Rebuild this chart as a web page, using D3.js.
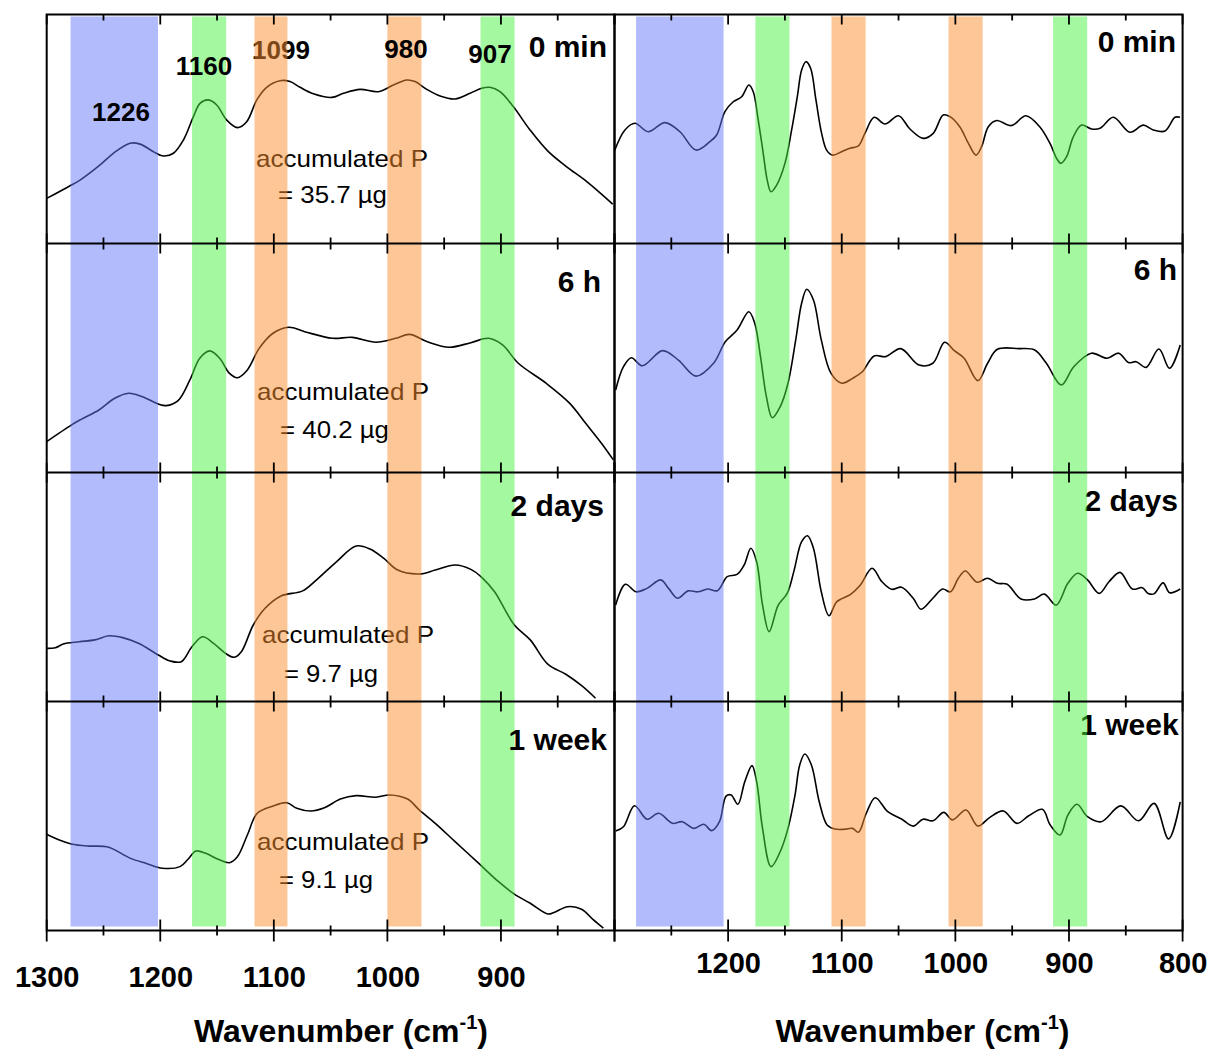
<!DOCTYPE html>
<html><head><meta charset="utf-8">
<script src="https://cdn.jsdelivr.net/npm/d3@7"></script>
<style>body{margin:0;background:#fff}svg{display:block}</style>
</head><body>
<svg id="chart" width="1213" height="1053"></svg>
<script>
// ---------------- DATA ----------------
const timeLabels = ["0 min", "6 h", "2 days", "1 week"];
const accumulatedP = ["35.7", "40.2", "9.7", "9.1"]; // µg
const peakLabels = [1226, 1160, 1099, 980, 907];
const majorTicks = [1300, 1200, 1100, 1000, 900, 800];
const minorTicks = [1250, 1150, 1050, 950, 850];
const leftTickLabels = [1300, 1200, 1100, 1000, 900];
const rightTickLabels = [1200, 1100, 1000, 900, 800];

// highlighted bands [from, to, kind]
const bandsLeft = [[1279, 1202, "blue"], [1172, 1142, "green"], [1117, 1088, "orange"], [1000, 970, "orange"], [918, 888, "green"]];
const bandsRight = [[1281, 1204, "blue"], [1176, 1146, "green"], [1109, 1079, "orange"], [1006, 976, "orange"], [914, 884, "green"]];

// absorbance spectra (a.u.) [wavenumber, value]
const absorbance0min = [[1300,0.197],[1280.9,0.248],[1270.6,0.277],[1253,0.343],[1241.3,0.394],[1226.6,0.438],[1217.8,0.434],[1206,0.401],[1197.3,0.382],[1188.4,0.394],[1179.6,0.452],[1170.8,0.554],[1165,0.612],[1157.6,0.627],[1150.3,0.605],[1141.5,0.539],[1132.1,0.506],[1123.9,0.532],[1115,0.627],[1106.3,0.682],[1094.5,0.711],[1085.7,0.707],[1076.9,0.682],[1065.2,0.654],[1049,0.638],[1038.7,0.656],[1024,0.673],[1007.9,0.663],[994.7,0.692],[983,0.714],[975.6,0.707],[965.3,0.673],[953.6,0.644],[940.4,0.631],[927.2,0.656],[916.9,0.678],[909.6,0.682],[900.8,0.663],[889,0.597],[874.4,0.496],[858.2,0.401],[842.1,0.335],[824.4,0.270],[801.6,0.172]];
const absorbance6h = [[1300,0.135],[1278.4,0.207],[1269.7,0.232],[1254,0.273],[1240.1,0.324],[1227.9,0.346],[1215.7,0.331],[1201.7,0.299],[1194.8,0.292],[1184.3,0.314],[1173.9,0.404],[1165.2,0.499],[1156.4,0.531],[1147.7,0.499],[1139,0.433],[1132.1,0.414],[1123.3,0.448],[1112.9,0.542],[1100.7,0.608],[1086.8,0.634],[1072.8,0.615],[1048.4,0.586],[1031,0.590],[1010.1,0.569],[992.7,0.586],[980.5,0.603],[964.8,0.571],[945.6,0.547],[926.5,0.567],[910.8,0.586],[898.6,0.557],[884.7,0.477],[860.3,0.390],[839.4,0.302],[825.4,0.215],[811.5,0.128],[801,0.055]];
const absorbance2d = [[1300,0.232],[1292.3,0.235],[1285.4,0.251],[1271.4,0.261],[1257.5,0.269],[1245.3,0.287],[1233.1,0.279],[1219.2,0.254],[1201.7,0.203],[1191.3,0.177],[1181.5,0.174],[1172.1,0.239],[1162.7,0.283],[1153,0.254],[1142.5,0.210],[1134.8,0.193],[1128.6,0.217],[1118.1,0.334],[1107.7,0.407],[1093.7,0.461],[1074.6,0.483],[1062.4,0.531],[1044.9,0.610],[1027.5,0.679],[1015.3,0.666],[1003.1,0.625],[990.9,0.574],[971.8,0.557],[957.8,0.574],[940.4,0.596],[926.5,0.577],[916,0.538],[905.6,0.479],[888.2,0.334],[874.2,0.269],[858.5,0.162],[842.9,0.119],[828.9,0.069],[816.7,0.014]];
const absorbance1w = [[1300,0.420],[1288.9,0.395],[1278.4,0.378],[1264.5,0.369],[1247,0.366],[1240.1,0.352],[1226.1,0.315],[1212.2,0.293],[1198.3,0.272],[1182.6,0.279],[1175.6,0.311],[1168.6,0.347],[1160,0.337],[1149.5,0.312],[1139,0.296],[1132.1,0.322],[1123.3,0.417],[1114.6,0.512],[1100.7,0.544],[1088.5,0.558],[1079.8,0.534],[1067.6,0.522],[1055.4,0.536],[1041.4,0.574],[1027.5,0.589],[1010.1,0.582],[998.1,0.592],[982.2,0.574],[971.8,0.526],[957.8,0.468],[940.4,0.388],[919.5,0.293],[902.1,0.213],[888.2,0.159],[874.2,0.119],[858.5,0.072],[853.3,0.079],[841.1,0.104],[829,0.093],[818.5,0.046],[809.8,0.010]];

// second-derivative spectra (a.u.) [wavenumber, value]
const derivative0min = [[1300,0.405],[1290.8,0.496],[1282,0.525],[1270.3,0.488],[1255.6,0.528],[1242.4,0.488],[1228.3,0.408],[1216,0.445],[1210.1,0.474],[1202.8,0.576],[1195.5,0.619],[1188.1,0.641],[1181.7,0.692],[1177.9,0.663],[1173.5,0.539],[1169.1,0.394],[1165.6,0.277],[1162.3,0.226],[1157.3,0.255],[1150,0.350],[1144.1,0.496],[1139.1,0.641],[1135.3,0.758],[1131.5,0.794],[1127.4,0.765],[1122.7,0.627],[1117.7,0.481],[1113.3,0.408],[1108,0.386],[1100.1,0.401],[1092.8,0.416],[1085.4,0.426],[1079.6,0.481],[1071.4,0.551],[1062,0.522],[1050,0.558],[1040,0.500],[1028.3,0.459],[1019.5,0.481],[1010.7,0.561],[1004.8,0.554],[996,0.509],[988.6,0.438],[981.9,0.386],[976.9,0.423],[971.1,0.509],[963.7,0.537],[950.5,0.515],[937.9,0.558],[925.6,0.509],[916.8,0.438],[910.9,0.372],[907.1,0.350],[902.1,0.379],[896.2,0.466],[888.9,0.517],[880.1,0.500],[872.7,0.503],[861,0.551],[846.3,0.486],[834.6,0.517],[825.8,0.496],[815.5,0.491],[806.7,0.551],[802.3,0.551]];
const derivative6h = [[1299,0.360],[1292.1,0.462],[1285.2,0.501],[1275.5,0.466],[1257.6,0.532],[1243.8,0.491],[1228.3,0.421],[1212.8,0.477],[1202.5,0.571],[1192.1,0.622],[1181.8,0.702],[1176.6,0.652],[1171.5,0.506],[1166.3,0.331],[1161.1,0.239],[1154.2,0.287],[1147.3,0.390],[1140.5,0.579],[1135.3,0.739],[1130.8,0.800],[1124.9,0.753],[1118,0.579],[1109.4,0.433],[1099.8,0.390],[1090.5,0.411],[1081.9,0.440],[1071.5,0.509],[1061.2,0.506],[1048.1,0.541],[1031.9,0.469],[1019.8,0.477],[1009.5,0.569],[1000.9,0.532],[992.3,0.499],[980.2,0.401],[971.6,0.477],[963,0.538],[944,0.541],[930.2,0.535],[919.9,0.477],[906.8,0.382],[895.8,0.462],[880.3,0.521],[866.5,0.499],[856.2,0.521],[847.6,0.480],[840.8,0.484],[832.2,0.459],[820.8,0.539],[811.5,0.455],[802.1,0.557]];
const derivative2d = [[1299,0.421],[1290.4,0.512],[1281,0.479],[1271.4,0.494],[1259.3,0.531],[1252.4,0.494],[1244.5,0.451],[1235.2,0.483],[1226.6,0.479],[1218,0.491],[1209.4,0.484],[1200.8,0.545],[1192.1,0.555],[1185.9,0.596],[1180,0.669],[1174.9,0.610],[1169.7,0.421],[1163.9,0.305],[1155.9,0.421],[1148,0.472],[1142.2,0.567],[1135.3,0.698],[1130.1,0.724],[1124.9,0.669],[1118,0.479],[1111.2,0.375],[1104.3,0.436],[1092.2,0.468],[1083.6,0.509],[1073.3,0.582],[1064.6,0.523],[1056,0.490],[1047.4,0.499],[1037.1,0.451],[1030.2,0.403],[1019.8,0.451],[1011.2,0.491],[1004.3,0.479],[997.4,0.538],[991.2,0.570],[980.9,0.521],[971.6,0.538],[963,0.516],[954.4,0.512],[942.3,0.448],[930.3,0.448],[921.6,0.469],[911.3,0.421],[901,0.516],[892.4,0.560],[883.7,0.531],[873.4,0.472],[864.8,0.523],[855.1,0.564],[844.1,0.491],[835.5,0.497],[830.3,0.472],[825.2,0.470],[817.2,0.518],[811.4,0.475],[802.1,0.491]];
const derivative1w = [[1299,0.434],[1292.1,0.453],[1282.4,0.545],[1271.4,0.486],[1261.1,0.512],[1249,0.468],[1240.4,0.475],[1230,0.446],[1221.4,0.464],[1214.5,0.436],[1207.6,0.475],[1201.8,0.587],[1197.3,0.592],[1191.5,0.551],[1185.3,0.650],[1179,0.720],[1174.9,0.650],[1169.7,0.446],[1162.2,0.279],[1154.2,0.344],[1147.3,0.446],[1141.1,0.592],[1137,0.723],[1132.5,0.771],[1126.7,0.723],[1119.8,0.562],[1112.9,0.461],[1106,0.443],[1097.4,0.442],[1090.5,0.446],[1085.3,0.429],[1078.4,0.512],[1070.5,0.580],[1059.5,0.519],[1047.4,0.487],[1037.1,0.456],[1028.5,0.486],[1019.8,0.479],[1010.2,0.516],[1002.6,0.483],[990.6,0.526],[980.2,0.456],[969.9,0.493],[957.8,0.522],[945.8,0.468],[935.4,0.501],[923.4,0.529],[916.5,0.461],[907.9,0.417],[901,0.504],[893,0.551],[883.7,0.497],[871.7,0.475],[854.4,0.544],[838.8,0.479],[825.1,0.555],[812.3,0.400],[802.1,0.562]];

const absorbanceSeries = [absorbance0min, absorbance6h, absorbance2d, absorbance1w];
const derivativeSeries = [derivative0min, derivative6h, derivative2d, derivative1w];

// ---------------- LAYOUT ----------------
const FONT = "'Liberation Sans', Arial, Helvetica, sans-serif";
const X0 = 46.7, XM = 614.5, X1 = 1182.6;
const TOP = 14.5, RH = 229, NR = 4;
const BOTTOM = TOP + NR * RH;
const bandColor = {blue: "#6579fb", green: "#47f141", orange: "#f98d2d"};

const xL = d3.scaleLinear().domain([1300, 800]).range([X0, XM]);
const xR = d3.scaleLinear().domain([1300, 800]).range([XM, X1]);
const yRow = i => d3.scaleLinear().domain([0, 1]).range([TOP + (i + 1) * RH, TOP + i * RH]);

const svg = d3.select("#chart");
const gCurves = svg.append("g");
const gUnder = svg.append("g");
const gBands = svg.append("g");
const gOver = svg.append("g");
const gFrame = svg.append("g");

// curves
function drawCurves(series, x) {
  series.forEach((data, i) => {
    const y = yRow(i);
    const line = d3.line().x(d => x(d[0])).y(d => y(d[1])).curve(d3.curveCatmullRom.alpha(0.5));
    gCurves.append("path").datum(data).attr("d", line)
      .attr("fill", "none").attr("stroke", "#000").attr("stroke-width", 1.6).attr("stroke-linejoin", "round");
  });
}
drawCurves(absorbanceSeries, xL);
drawCurves(derivativeSeries, xR);

// bands
function drawBands(bands, x) {
  gBands.selectAll(null).data(bands).enter().append("rect")
    .attr("x", d => x(d[0])).attr("width", d => x(d[1]) - x(d[0]))
    .attr("y", TOP + 2).attr("height", BOTTOM - TOP - 6)
    .attr("fill", d => bandColor[d[2]]).attr("fill-opacity", 0.5);
}
drawBands(bandsLeft, xL);
drawBands(bandsRight, xR);

// accumulated P texts (under the bands)
const accOff = [152.2, 156.5, 170.8, 148.5];
const accX = [256, 257, 262, 257];
const eqOff = [188.8, 194.8, 209.2, 186.8];
const eqX = [278, 280, 284, 279];
accumulatedP.forEach((v, i) => {
  const top = TOP + i * RH;
  gUnder.append("text").attr("x", accX[i]).attr("y", top + accOff[i])
    .attr("font-family", FONT).attr("font-size", 24).attr("textLength", 172).attr("lengthAdjust", "spacingAndGlyphs")
    .text("accumulated P");
  const s = "= " + v + " µg";
  gUnder.append("text").attr("x", eqX[i]).attr("y", top + eqOff[i])
    .attr("font-family", FONT).attr("font-size", 24)
    .attr("textLength", v.length > 3 ? 109 : 94).attr("lengthAdjust", "spacingAndGlyphs")
    .text(s);
});

// peak labels (row 1 left)
const peakPos = [[121, 120.7], [204, 75], [281, 59.3], [406, 58.3], [490, 62.7]];
peakLabels.forEach((p, k) => {
  const g = (p === 1099) ? gUnder : gOver;
  g.append("text").attr("x", peakPos[k][0]).attr("y", peakPos[k][1])
    .attr("text-anchor", "middle").attr("font-family", FONT).attr("font-weight", "bold").attr("font-size", 26)
    .text(p);
});

// time labels
const tlLeft = [[607, 42.2], [601, 48.2], [604, 43.2], [607, 48.5]];
const tlRight = [[1176, 37.8], [1177, 36.5], [1178, 38.2], [1178.6, 33.5]];
timeLabels.forEach((t, i) => {
  const top = TOP + i * RH;
  gOver.append("text").attr("x", tlLeft[i][0]).attr("y", top + tlLeft[i][1])
    .attr("text-anchor", "end").attr("font-family", FONT).attr("font-weight", "bold").attr("font-size", 30).text(t);
  gUnder.append("text").attr("x", tlRight[i][0]).attr("y", top + tlRight[i][1])
    .attr("text-anchor", "end").attr("font-family", FONT).attr("font-weight", "bold").attr("font-size", 30).text(t);
});

// frames and ticks
function drawFrame(x, x0, x1) {
  gFrame.append("rect").attr("x", x0).attr("y", TOP).attr("width", x1 - x0).attr("height", BOTTOM - TOP)
    .attr("fill", "none").attr("stroke", "#000").attr("stroke-width", 2);
  for (let k = 1; k < NR; k++) {
    gFrame.append("line").attr("x1", x0).attr("x2", x1).attr("y1", TOP + k * RH).attr("y2", TOP + k * RH)
      .attr("stroke", "#000").attr("stroke-width", 2);
  }
  for (let k = 0; k <= NR; k++) {
    const y = TOP + k * RH;
    const up = k === 0 ? 0 : (k === NR ? 11 : 10);
    const down = k === NR ? 11 : 10;
    const mUp = k === 0 ? 0 : (k === NR ? 5 : 6);
    const mDown = k === NR ? 5 : 6;
    gFrame.selectAll(null).data(majorTicks).enter().append("line")
      .attr("x1", d => x(d)).attr("x2", d => x(d)).attr("y1", y - up).attr("y2", y + down)
      .attr("stroke", "#000").attr("stroke-width", 1.8);
    gFrame.selectAll(null).data(minorTicks).enter().append("line")
      .attr("x1", d => x(d)).attr("x2", d => x(d)).attr("y1", y - mUp).attr("y2", y + mDown)
      .attr("stroke", "#000").attr("stroke-width", 1.8);
  }
}
drawFrame(xL, X0, XM);
drawFrame(xR, XM, X1);

// tick labels via axes
function drawAxisLabels(x, vals, pad) {
  const ax = d3.axisBottom(x).tickValues(vals).tickSize(0).tickPadding(pad).tickFormat(d3.format("d"));
  const g = svg.append("g").attr("transform", `translate(0,${BOTTOM})`).call(ax);
  g.select(".domain").remove();
  g.selectAll("text").attr("font-family", FONT).attr("font-weight", "bold").attr("font-size", 29).attr("fill", "#000");
}
drawAxisLabels(xL, leftTickLabels, 36);
drawAxisLabels(xR, rightTickLabels, 22);

// axis titles
function drawTitle(cx) {
  const t = svg.append("text").attr("x", cx).attr("y", 1042).attr("text-anchor", "middle")
    .attr("font-family", FONT).attr("font-weight", "bold").attr("font-size", 32);
  t.append("tspan").text("Wavenumber (cm");
  t.append("tspan").attr("font-size", 20).attr("dy", -13).text("-1");
  t.append("tspan").attr("dy", 13).text(")");
}
drawTitle(341);
drawTitle(922.5);
</script>
</body></html>
